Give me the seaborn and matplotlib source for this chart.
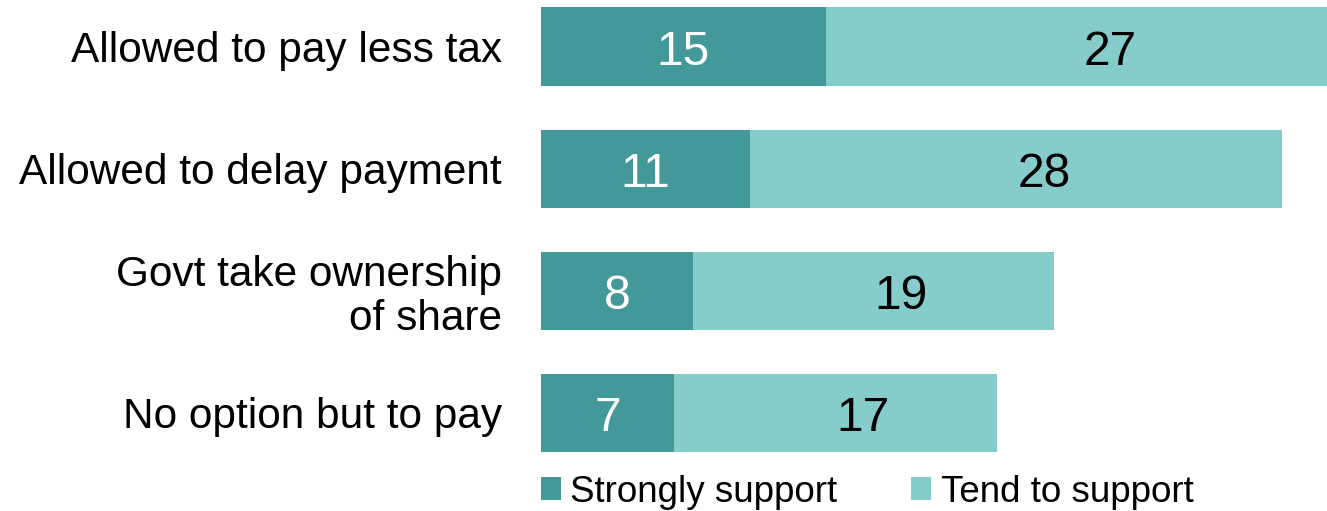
import matplotlib
matplotlib.use("Agg")
import matplotlib.pyplot as plt
from matplotlib.patches import Patch
import seaborn as sns
import pandas as pd

categories = ["Allowed to pay less tax", "Allowed to delay payment",
              "Govt take ownership\nof share", "No option but to pay"]
strongly_support = [15, 11, 8, 7]
tend_to_support = [27, 28, 19, 17]
series_names = ["Strongly support", "Tend to support"]

DARK = "#439999"
LIGHT = "#85CCCB"

sns.set_theme(style="white")
plt.rcParams["font.family"] = ["Liberation Sans", "DejaVu Sans"]
plt.rcParams["text.color"] = "black"

df = pd.DataFrame({
    "category": categories,
    "strong": strongly_support,
    "tend": tend_to_support,
})
df["total"] = df["strong"] + df["tend"]

W, H = 1327, 511
fig = plt.figure(figsize=(W / 100, H / 100), dpi=100)
ax = fig.add_axes([541 / W, 1 - 470 / H, 1 - 541 / W, 470 / H])

# stacked horizontal bars: full total in light, strong part on top in dark
sns.barplot(data=df, x="total", y="category", color=LIGHT, width=0.64,
            saturation=1, ax=ax, orient="h", linewidth=0)
sns.barplot(data=df, x="strong", y="category", color=DARK, width=0.64,
            saturation=1, ax=ax, orient="h", linewidth=0)

VAL_SIZE = 34.5
for i, (s, t) in enumerate(zip(df["strong"], df["tend"])):
    ax.annotate(f"{s}", xy=(s / 2, i), xytext=(0, -13), textcoords="offset points",
                ha="center", va="baseline", color="white", fontsize=VAL_SIZE)
    ax.annotate(f"{t}", xy=(s + t / 2, i), xytext=(20, -13),
                textcoords="offset points", ha="center", va="baseline",
                color="black", fontsize=VAL_SIZE)

ax.set_xlim(0, (W - 541) / 19)
ax.set_ylim(3 + 57 / 122, -46.5 / 122)
ax.set_xlabel("")
ax.set_ylabel("")
ax.set_xticks([])
ax.tick_params(axis="y", length=0, pad=28, labelsize=30.5)
for lbl in ax.get_yticklabels():
    lbl.set_linespacing(1.12)
    lbl.set_color("black")
for sp in ax.spines.values():
    sp.set_visible(False)

handles = [Patch(facecolor=DARK, edgecolor="none"),
           Patch(facecolor=LIGHT, edgecolor="none")]
leg = fig.legend(handles, series_names, loc="center left",
                 bbox_to_anchor=(541 / W, 1 - 492 / H), ncol=2, frameon=False,
                 fontsize=26.5, handlelength=0.55, handleheight=0.55,
                 handletextpad=0.25, columnspacing=2.0, borderpad=0,
                 borderaxespad=0)
for txt in leg.get_texts():
    txt.set_color("black")

fig.savefig("out.png", dpi=100)
